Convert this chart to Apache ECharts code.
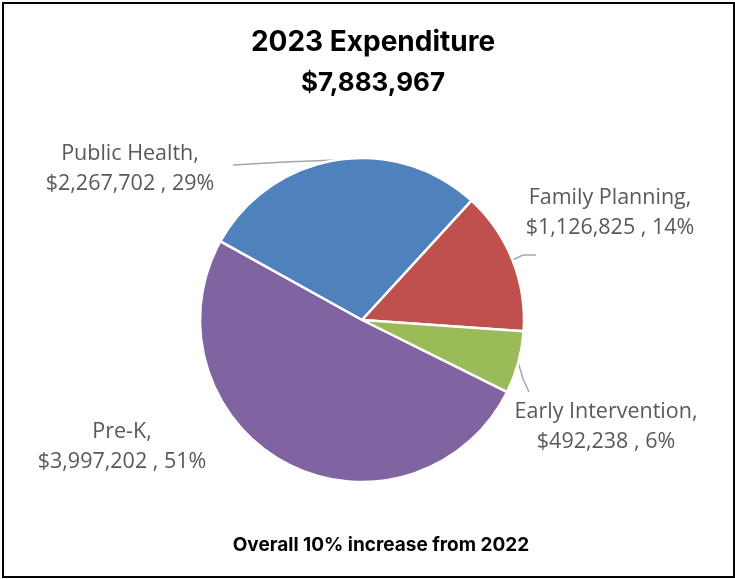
<!DOCTYPE html>
<html>
<head>
<meta charset="utf-8">
<script src="https://cdn.jsdelivr.net/npm/echarts@6/dist/echarts.min.js"></script>
<style>
html,body{margin:0;padding:0;background:#fff;}
#chart{width:735px;height:579px;}
</style>
</head>
<body>
<div id="chart"></div>
<script>
const categories = ['Public Health', 'Family Planning', 'Early Intervention', 'Pre-K'];
const values = [2267702, 1126825, 492238, 3997202];
const colors = ['#4F81BD', '#C0504D', '#9BBB59', '#8064A2'];
const titleText = '2023 Expenditure';
const subtitleText = '$7,883,967';
const footerText = 'Overall 10% increase from 2022';
// label centres (layout only)
const labelCenters = [[130, 169], [610, 213], [606, 427], [122, 447]];
// leader line bend / end points (layout only); start comes from the slice itself
const leaderTail = [[[285, 162], [233, 165]], [[523, 255], [536, 255]], [[523, 379], [529, 392]], null];

const chart = echarts.init(document.getElementById('chart'));
const fmt = v => '$' + v.toLocaleString('en-US');

chart.setOption({
  animation: false,
  title: [
    {text: titleText, left: 368, top: 24, textAlign: 'center',
     textStyle: {fontFamily: 'Inter', fontWeight: 'bold', fontSize: 28, color: '#000'}},
    {text: subtitleText, left: 368, top: 65, textAlign: 'center',
     textStyle: {fontFamily: 'Inter', fontWeight: 'bold', fontSize: 26, color: '#000'}},
    {text: footerText, left: 376, top: 531, textAlign: 'center',
     textStyle: {fontFamily: 'Inter', fontWeight: 'bold', fontSize: 19, color: '#000'}}
  ],
  graphic: [{
    type: 'rect', shape: {x: 3, y: 3, width: 731, height: 574},
    style: {fill: 'none', stroke: '#000', lineWidth: 2}, silent: true
  }],
  series: [{
    type: 'pie',
    center: [362, 320],
    radius: 162,
    startAngle: 151,
    clockwise: true,
    avoidLabelOverlap: false,
    itemStyle: {borderColor: '#fff', borderWidth: 2.5},
    label: {
      show: true,
      position: 'outside',
      fontFamily: 'Open Sans',
      fontSize: 21.5,
      lineHeight: 30,
      color: '#595959',
      align: 'center',
      formatter: p => p.name + ',\n' + fmt(p.value) + ' , ' + Math.round(p.percent) + '%'
    },
    labelLine: {show: true, lineStyle: {color: '#A6A6A6', width: 1.5}, length: 10, length2: 10},
    labelLayout: p => {
      const c = labelCenters[p.dataIndex];
      const out = {x: c[0], y: c[1], align: 'center', verticalAlign: 'middle'};
      const tail = leaderTail[p.dataIndex];
      if (tail && p.labelLinePoints) {
        out.labelLinePoints = [p.labelLinePoints[0], tail[0], tail[1]];
      }
      return out;
    },
    data: categories.map((n, i) => ({
      name: n, value: values[i],
      itemStyle: {color: colors[i]},
      labelLine: {show: leaderTail[i] !== null}
    }))
  }]
});
</script>
</body>
</html>
